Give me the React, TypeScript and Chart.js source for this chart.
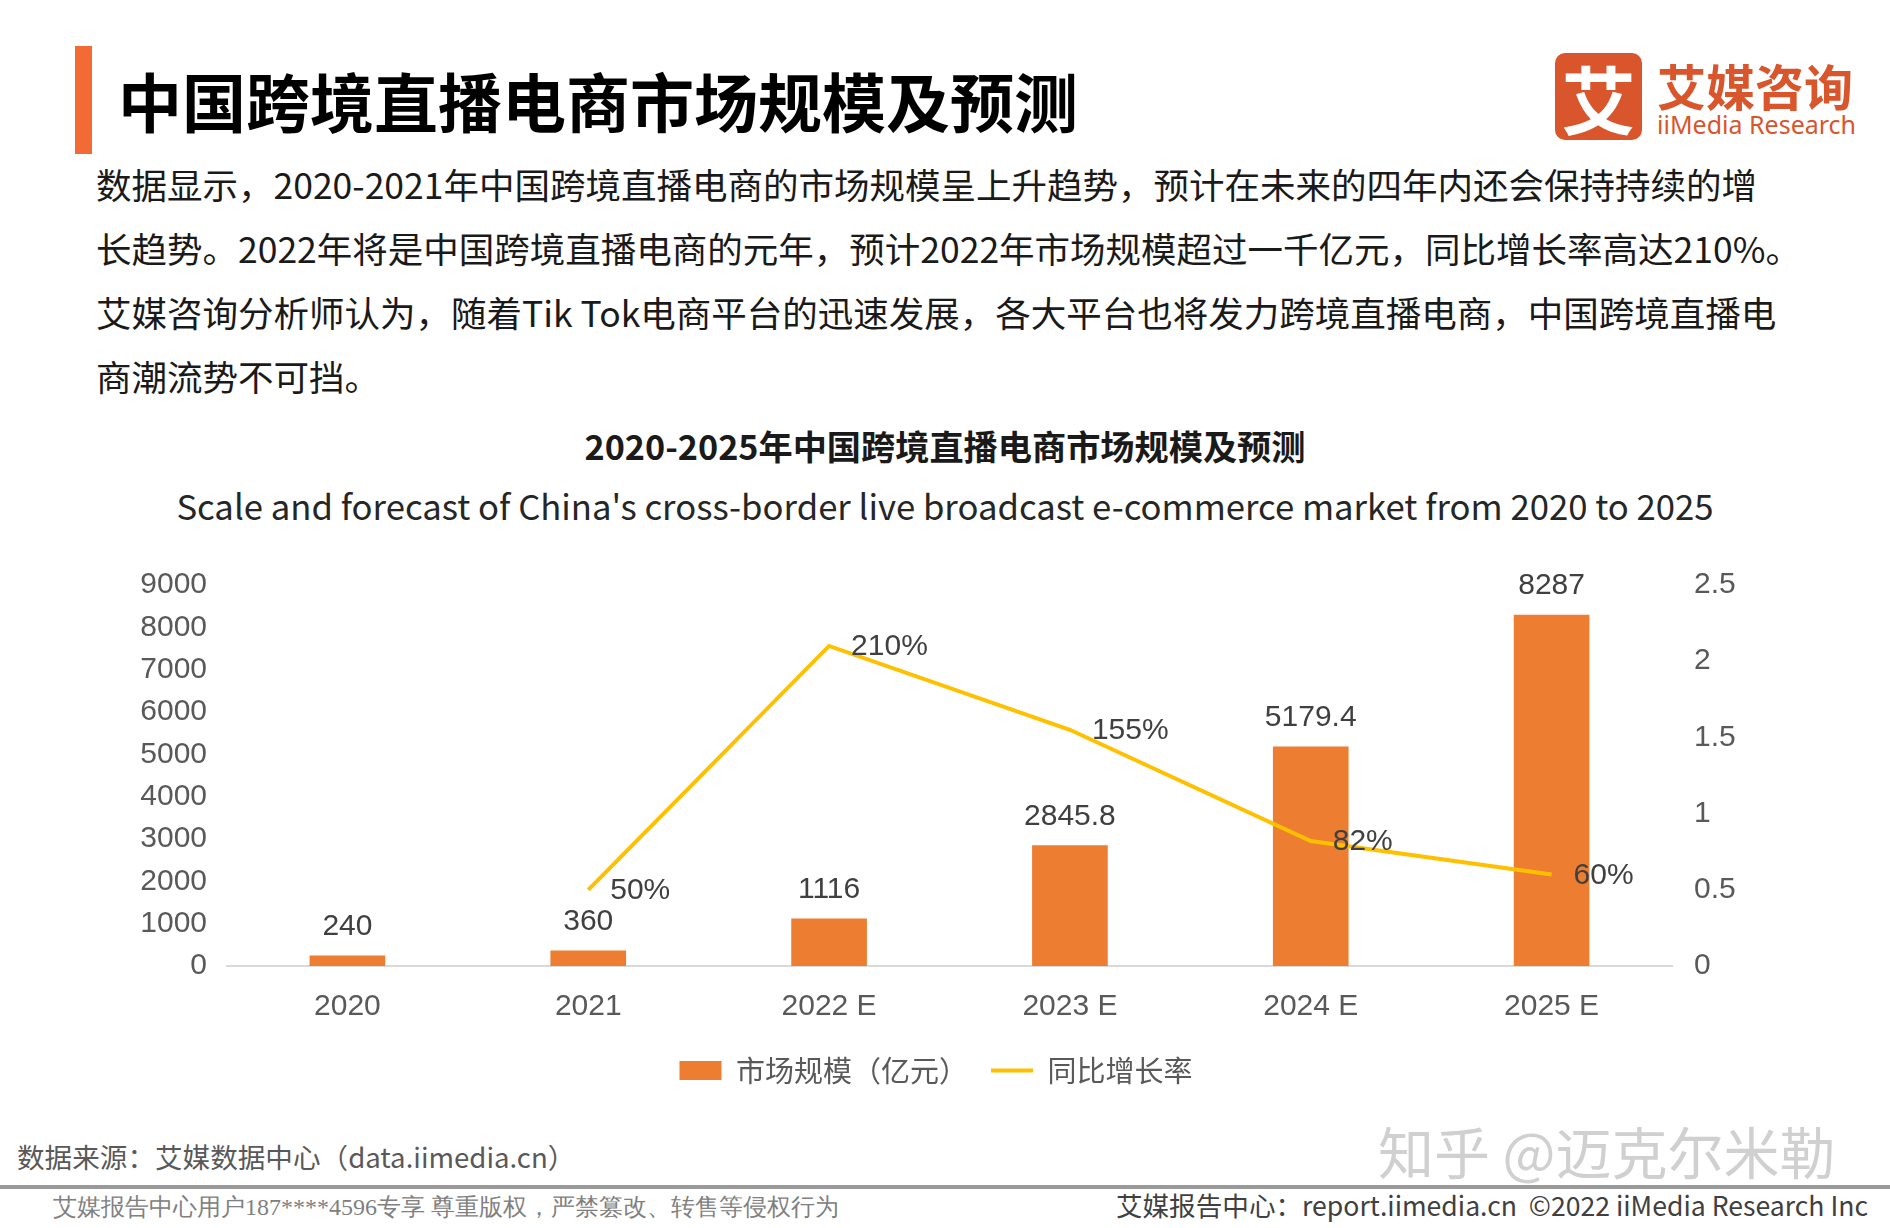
import React, { useEffect, useRef } from "react";
import { Chart, registerables } from "chart.js";

Chart.register(...registerables);

// ---------- data ----------
const categories = ["2020", "2021", "2022 E", "2023 E", "2024 E", "2025 E"];
const marketSize = [240, 360, 1116, 2845.8, 5179.4, 8287];
const marketLabels = ["240", "360", "1116", "2845.8", "5179.4", "8287"];
const growthRate: (number | null)[] = [null, 0.5, 2.1, 1.55, 0.82, 0.6];
const growthLabels = ["", "50%", "210%", "155%", "82%", "60%"];
const seriesNames = ["市场规模（亿元）", "同比增长率"];
const leftMax = 9000;
const leftStep = 1000;
const rightMax = 2.5;
const rightStep = 0.5;

const paragraphLines = [
  "数据显示，2020-2021年中国跨境直播电商的市场规模呈上升趋势，预计在未来的四年内还会保持持续的增",
  "长趋势。2022年将是中国跨境直播电商的元年，预计2022年市场规模超过一千亿元，同比增长率高达210%。",
  "艾媒咨询分析师认为，随着Tik Tok电商平台的迅速发展，各大平台也将发力跨境直播电商，中国跨境直播电",
  "商潮流势不可挡。",
];

const CJK = "'Noto Sans CJK SC', 'Noto Sans', sans-serif";
const ARIAL = "'Liberation Sans', Arial, sans-serif";
const BAR_COLOR = "#ED7D31";
const LINE_COLOR = "#FFC000";
const LOGO_COLOR = "#D9552C";

const labelPlugin = {
  id: "valueLabels",
  afterDatasetsDraw(chart: any) {
    const ctx = chart.ctx;
    ctx.save();
    ctx.font = `30px ${ARIAL}`;
    ctx.fillStyle = "#404040";
    const barMeta = chart.getDatasetMeta(0);
    barMeta.data.forEach((el: any, i: number) => {
      ctx.textAlign = "center";
      ctx.textBaseline = "middle";
      ctx.fillText(marketLabels[i], el.x, el.y - 29);
    });
    const lineMeta = chart.getDatasetMeta(1);
    lineMeta.data.forEach((el: any, i: number) => {
      if (growthRate[i] === null) return;
      ctx.textAlign = "left";
      ctx.textBaseline = "middle";
      ctx.fillText(growthLabels[i], el.x + 22, el.y + 1);
    });
    ctx.restore();
  },
};

function abs(left: number, top: number, extra: React.CSSProperties = {}): React.CSSProperties {
  return { position: "absolute", left, top, whiteSpace: "nowrap", ...extra };
}

export default function App() {
  const ref = useRef<HTMLCanvasElement>(null);

  useEffect(() => {
    const chart = new Chart(ref.current as HTMLCanvasElement, {
      type: "bar",
      data: {
        labels: categories,
        datasets: [
          {
            type: "bar",
            label: seriesNames[0],
            data: marketSize,
            backgroundColor: BAR_COLOR,
            borderWidth: 0,
            barThickness: 75,
            yAxisID: "y",
            order: 1,
            pointStyle: "rect",
          } as any,
          {
            type: "line",
            label: seriesNames[1],
            data: growthRate,
            borderColor: LINE_COLOR,
            backgroundColor: LINE_COLOR,
            borderWidth: 4,
            pointRadius: 0,
            tension: 0,
            yAxisID: "y1",
            order: 0,
            pointStyle: "line",
          } as any,
        ],
      },
      options: {
        responsive: false,
        animation: false,
        layout: { padding: { left: 100, right: 118, top: 43, bottom: 7 } },
        plugins: {
          tooltip: { enabled: false },
          legend: {
            position: "bottom",
            labels: {
              usePointStyle: true,
              pointStyleWidth: 42,
              boxHeight: 19,
              padding: 23,
              color: "#595959",
              font: { size: 29, family: CJK },
              sort: (a: any, b: any) => a.datasetIndex - b.datasetIndex,
            },
          },
        },
        scales: {
          x: {
            grid: { display: false },
            border: { display: true, color: "#d9d9d9", width: 2 },
            ticks: { color: "#595959", font: { size: 30, family: ARIAL }, padding: 15 },
            afterFit: (s: any) => {
              s.height = 67;
            },
          },
          y: {
            position: "left",
            min: 0,
            max: leftMax,
            grid: { display: false },
            border: { display: false },
            ticks: {
              stepSize: leftStep,
              color: "#595959",
              font: { size: 30, family: ARIAL },
              padding: 12,
              callback: (v: any) => String(v),
            },
            afterFit: (s: any) => {
              s.width = 127;
            },
          },
          y1: {
            position: "right",
            min: 0,
            max: rightMax,
            grid: { display: false },
            border: { display: false },
            ticks: {
              stepSize: rightStep,
              color: "#595959",
              font: { size: 30, family: ARIAL },
              padding: 14,
              callback: (v: any) => String(v),
            },
            afterFit: (s: any) => {
              s.width = 100;
            },
          },
        },
      } as any,
      plugins: [labelPlugin],
    });
    return () => chart.destroy();
  }, []);

  return (
    <div
      style={{
        position: "absolute",
        left: 0,
        top: 0,
        width: 1890,
        height: 1228,
        background: "#ffffff",
        overflow: "hidden",
        fontFamily: CJK,
      }}
    >
      {/* header */}
      <div style={abs(75, 46, { width: 17, height: 108, background: "#F26B35" })} />
      <div style={abs(118, 61, { fontSize: 64, lineHeight: "76px", fontWeight: 700, color: "#000" })}>
        中国跨境直播电商市场规模及预测
      </div>

      {/* logo */}
      <div
        style={abs(1555, 53, {
          width: 87,
          height: 87,
          borderRadius: 10,
          background: LOGO_COLOR,
          color: "#fff",
          fontSize: 74,
          fontWeight: 700,
          lineHeight: "87px",
          textAlign: "center",
        })}
      >
        艾
      </div>
      <div style={abs(1657, 55, { fontSize: 49, lineHeight: "60px", fontWeight: 700, color: LOGO_COLOR })}>
        艾媒咨询
      </div>
      <div style={abs(1657, 108, { fontSize: 25, lineHeight: "32px", color: LOGO_COLOR, fontFamily: "'Noto Sans', sans-serif" })}>
        iiMedia Research
      </div>

      {/* paragraph */}
      {paragraphLines.map((t, i) => (
        <div key={i} style={abs(96, 184 + i * 64 - 22, { fontSize: 35.5, lineHeight: "44px", color: "#1a1a1a" })}>
          {t}
        </div>
      ))}

      {/* chart titles */}
      <div style={abs(0, 445 - 22, { width: 1890, textAlign: "center", fontSize: 34.2, lineHeight: "44px", fontWeight: 700, color: "#1a1a1a" })}>
        2020-2025年中国跨境直播电商市场规模及预测
      </div>
      <div style={abs(0, 506 - 23, { width: 1890, textAlign: "center", fontSize: 34.7, lineHeight: "44px", color: "#262626" })}>
        Scale and forecast of China's cross-border live broadcast e-commerce market from 2020 to 2025
      </div>

      {/* chart */}
      <div style={abs(0, 542, { width: 1890, height: 560 })}>
        <canvas ref={ref} width={1890} height={560} style={{ width: 1890, height: 560, display: "block" }} />
      </div>

      {/* footer */}
      <div style={abs(17, 1156 - 18, { fontSize: 27.6, lineHeight: "36px", color: "#595959" })}>
        数据来源：艾媒数据中心（data.iimedia.cn）
      </div>
      <div style={abs(1378, 1151 - 36, { fontSize: 56, lineHeight: "70px", color: "#d0d0d0" })}>
        知乎 @迈克尔米勒
      </div>
      <div style={abs(0, 1185, { width: 1890, height: 4, background: "#9a9a9a" })} />
      <div style={abs(53, 1207 - 16, { fontSize: 24, lineHeight: "32px", color: "#808080", fontFamily: "serif" })}>
        艾媒报告中心用户187****4596专享 尊重版权，严禁篡改、转售等侵权行为
      </div>
      <div style={abs(1068, 1205 - 16, { width: 800, textAlign: "right", fontSize: 26.6, lineHeight: "32px", color: "#404040" })}>
        艾媒报告中心：report.iimedia.cn&nbsp;&nbsp;©2022 iiMedia Research Inc
      </div>
    </div>
  );
}
